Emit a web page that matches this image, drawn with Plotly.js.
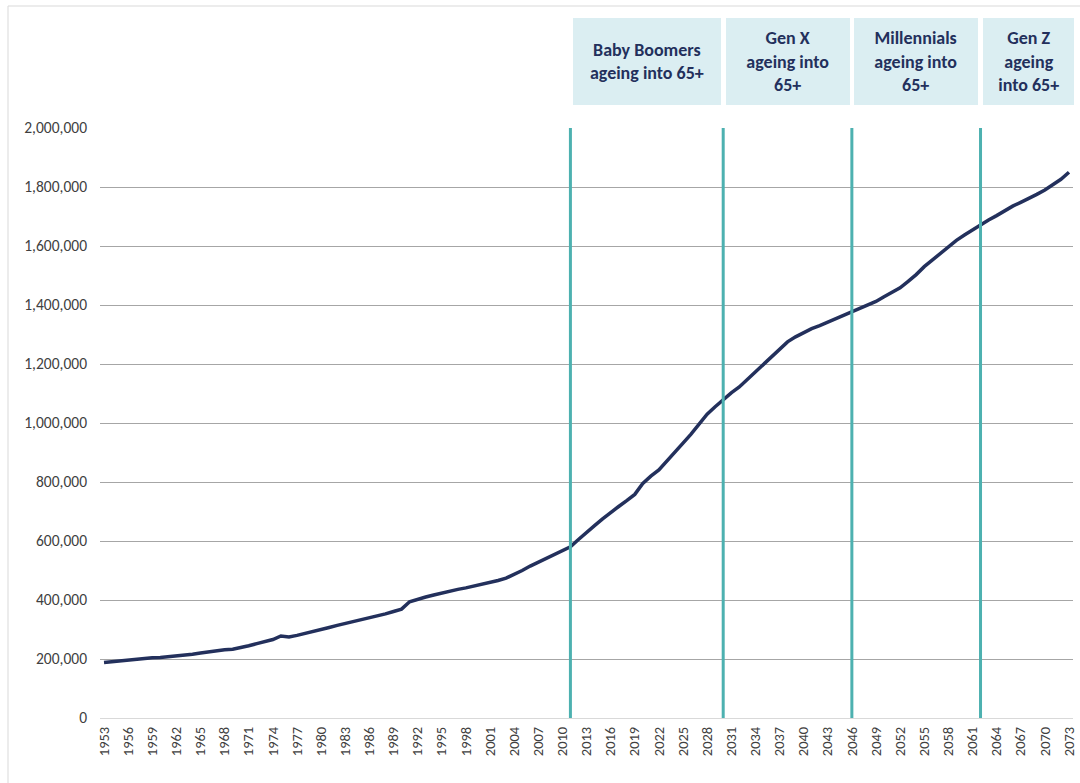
<!DOCTYPE html>
<html>
<head>
<meta charset="utf-8">
<script src="https://cdn.plot.ly/plotly-3.0.1.min.js"></script>
<style>
  html, body { margin: 0; padding: 0; background: #ffffff; }
  #chart { width: 1080px; height: 783px; }
</style>
</head>
<body>
<div id="chart"></div>
<script>
// ---- Data ----
const years = [];
for (let y = 1953; y <= 2073; y++) years.push(y);

const population = [
  188000, 191000, 195000, 198000, 200000, 202000, 204000, 205000, 207000, 210000, // 1953-1962
  213000, 216000, 220000, 224000, 228000, 231000, 233000, 238000, 245000, 252000, // 1963-1972
  259000, 266000, 278000, 275000, 280000, 286000, 293000, 300000, 307000, 314000, // 1973-1982
  320000, 326000, 332000, 339000, 346000, 353000, 361000, 369000, 394000, 403000, // 1983-1992
  410000, 417000, 424000, 430000, 436000, 441000, 447000, 452000, 458000, 466000, // 1993-2002
  474000, 486000, 500000, 515000, 528000, 540000, 552000, 565000, 580000, 605000, // 2003-2012
  630000, 652000, 675000, 697000, 717000, 737000, 758000, 795000, 820000, 841000, // 2013-2022
  870000, 902000, 932000, 962000, 995000, 1030000, 1055000, 1080000, 1102000, 1122000, // 2023-2032
  1147000, 1172000, 1198000, 1224000, 1250000, 1275000, 1292000, 1307000, 1320000, 1330000, // 2033-2042
  1342000, 1354000, 1366000, 1378000, 1389000, 1400000, 1412000, 1428000, 1442000, 1458000, // 2043-2052
  1480000, 1503000, 1530000, 1553000, 1575000, 1598000, 1619000, 1637000, 1655000, 1672000, // 2053-2062
  1688000, 1703000, 1720000, 1735000, 1748000, 1760000, 1775000, 1790000, 1808000, 1826000, // 2063-2072
  1850000 // 2073
];

const tickYears = [];
for (let y = 1953; y <= 2073; y += 3) tickYears.push(y);
const tickLabels = tickYears.map(String);

const yTicks = [0, 200000, 400000, 600000, 800000, 1000000, 1200000, 1400000, 1600000, 1800000, 2000000];

// Years when each generation begins turning 65
const genYears = [2011, 2030, 2046, 2062];
const genLabels = [
  "Baby Boomers<br>ageing into 65+",
  "Gen X<br>ageing into<br>65+",
  "Millennials<br>ageing into<br>65+",
  "Gen Z<br>ageing<br>into 65+"
];
const genEnd = 2074;

// ---- Styles ----
const FONT = "Calibri, Carlito, Lato, 'Open Sans', sans-serif";
const NAVY = "#23305c";
const TEAL = "#4db1b0";
const BOXFILL = "#dbeef2";

const xMin = 1952.5, xMax = 2073.5;
const plotL = 100, plotR = 7, plotT = 128, plotB = 65;
const plotW = 1080 - plotL - plotR;
const pxPerYear = plotW / (xMax - xMin);

const shapes = genYears.map(g => ({
  type: "line", xref: "x", yref: "paper",
  x0: g, x1: g, y0: 0, y1: 1,
  line: { color: TEAL, width: 3 }, layer: "above"
}));

// Outer chart border (light grey), like the source frame
shapes.push({
  type: "line", xref: "paper", yref: "paper",
  x0: (8 - plotL) / plotW, x1: (8 - plotL) / plotW,
  y0: -0.2, y1: (783 - plotB - 6) / 590,
  line: { color: "#d9d9d9", width: 1 }
});
shapes.push({
  type: "line", xref: "paper", yref: "paper",
  x0: (8 - plotL) / plotW, x1: (1085 - plotL) / plotW,
  y0: (783 - plotB - 6) / 590, y1: (783 - plotB - 6) / 590,
  line: { color: "#d9d9d9", width: 1 }
});

const annotations = genLabels.map((txt, i) => {
  const start = genYears[i];
  const end = i + 1 < genYears.length ? genYears[i + 1] : genEnd;
  const w = (end - start) * pxPerYear - 5;
  return {
    xref: "x", yref: "paper",
    x: (start + end) / 2, y: (718 - 62) / 590,
    xanchor: "center", yanchor: "middle",
    text: "<b>" + txt + "</b>",
    showarrow: false,
    bgcolor: BOXFILL,
    width: w, height: 87,
    borderpad: 0, borderwidth: 0,
    align: "center", valign: "middle",
    font: { family: FONT, size: 18, color: NAVY }
  };
});

const trace = {
  x: years, y: population,
  type: "scatter", mode: "lines",
  line: { color: NAVY, width: 3.5 },
  hoverinfo: "x+y"
};

const layout = {
  width: 1080, height: 783,
  margin: { l: plotL, r: plotR, t: plotT, b: plotB },
  paper_bgcolor: "#ffffff", plot_bgcolor: "#ffffff",
  showlegend: false,
  font: { family: FONT, color: "#404040", size: 15 },
  xaxis: {
    type: "linear", range: [xMin, xMax],
    tickmode: "array", tickvals: tickYears, ticktext: tickLabels,
    tickangle: -90, ticks: "", showgrid: false, zeroline: false,
    showline: true, linecolor: "#d9d9d9", linewidth: 1,
    tickfont: { family: FONT, size: 14.5, color: "#404040" },
    ticklabelstandoff: 2, fixedrange: true
  },
  yaxis: {
    range: [0, 2000000],
    tickmode: "array", tickvals: yTicks,
    tickformat: ",d", ticks: "",
    showgrid: true, gridcolor: "#a6a6a6", gridwidth: 1,
    zeroline: false, showline: false,
    tickfont: { family: FONT, size: 15.5, color: "#404040" },
    ticklabelstandoff: 12, fixedrange: true
  },
  shapes: shapes,
  annotations: annotations
};

Plotly.newPlot("chart", [trace], layout, { displayModeBar: false, staticPlot: true });
</script>
</body>
</html>
